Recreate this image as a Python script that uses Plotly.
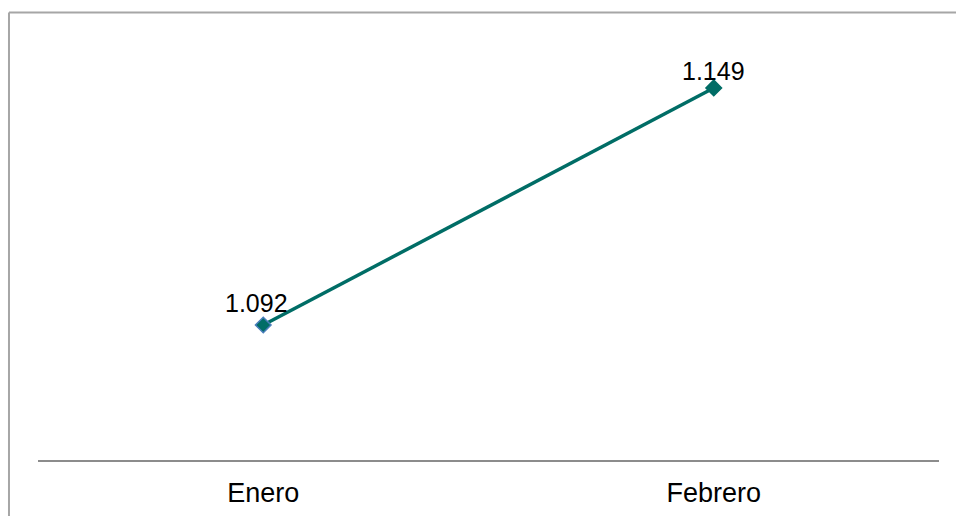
import plotly.graph_objects as go

# Monthly totals (Spanish thousands separator on display)
months = ["Enero", "Febrero"]
totals = [1092, 1149]

teal = "#006d66"
marker_edges = ["#4a7ebb", teal]

fig = go.Figure()
fig.add_trace(go.Scatter(
    x=months,
    y=totals,
    mode="lines+markers",
    line=dict(color=teal, width=3.5),
    marker=dict(symbol="diamond", size=12, color=teal,
                line=dict(color=marker_edges, width=1.5)),
    hoverinfo="skip",
    showlegend=False,
))

# Value labels above each point
label_shift = [(-7, 22), (0, 17)]
for m, v, (dx, dy) in zip(months, totals, label_shift):
    fig.add_annotation(
        x=m, y=v, text=f"{v:,}".replace(",", "."),
        showarrow=False, xanchor="center", yanchor="middle",
        xshift=dx, yshift=dy,
        font=dict(family="Liberation Sans, Arial, sans-serif", size=25, color="#000000"),
    )

# Outer frame (left and top edges)
fig.add_shape(type="line", xref="paper", yref="paper",
              x0=-0.0322, x1=-0.0322, y0=-0.2, y1=1.0655,
              line=dict(color="#a6a6a6", width=2))
fig.add_shape(type="line", xref="paper", yref="paper",
              x0=-0.0322, x1=1.05, y0=1.0655, y1=1.0655,
              line=dict(color="#a6a6a6", width=2))

fig.update_layout(
    width=956, height=516,
    margin=dict(l=38, r=17, t=40, b=56),
    paper_bgcolor="white", plot_bgcolor="white",
    separators=",.",
    xaxis=dict(
        type="category", range=[-0.5, 1.5],
        automargin=False,
        showline=True, linecolor="#8c8c8c", linewidth=2,
        showgrid=False, zeroline=False, ticks="",
        ticklabelstandoff=8,
        tickfont=dict(family="Liberation Sans, Arial, sans-serif", size=27, color="#000000"),
    ),
    yaxis=dict(
        range=[1059.53, 1160.54],
        visible=False, showgrid=False, zeroline=False,
    ),
)

fig.write_html("out.html")
